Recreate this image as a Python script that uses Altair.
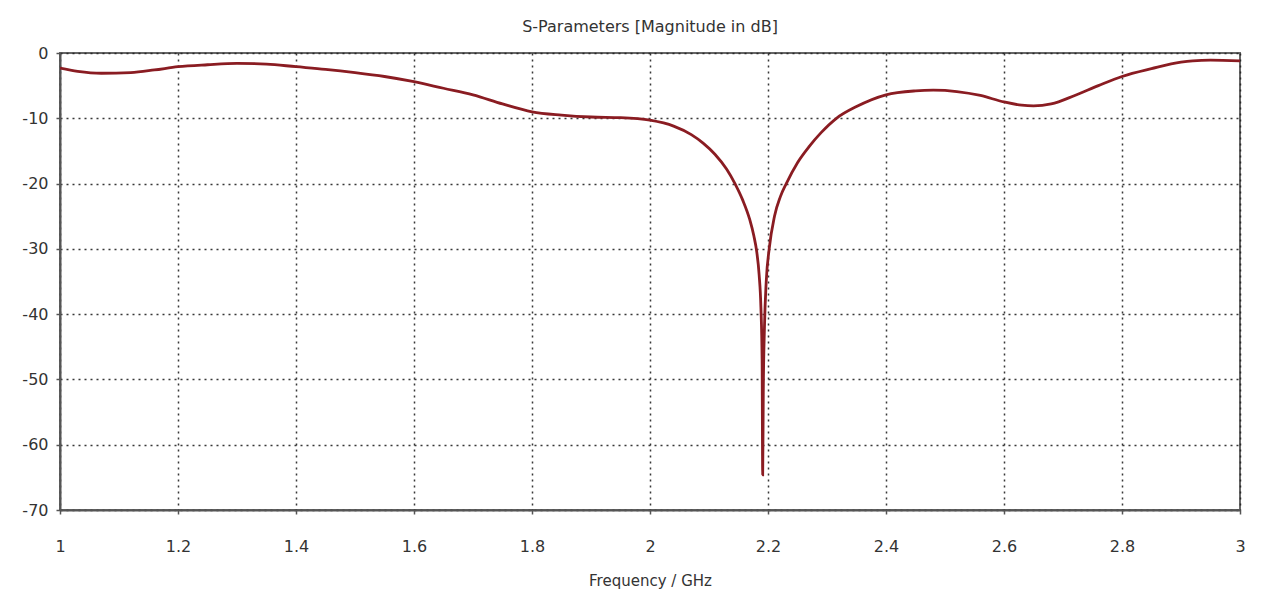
import altair as alt
import pandas as pd

freq = [1.00, 1.03, 1.07, 1.12, 1.16, 1.20, 1.25, 1.30, 1.35, 1.40, 1.45, 1.50,
        1.55, 1.60, 1.65, 1.70, 1.75, 1.80, 1.85, 1.90, 1.95, 2.00, 2.04, 2.07,
        2.09, 2.11, 2.13, 2.144, 2.157, 2.169, 2.176, 2.181, 2.185, 2.188, 2.190,
        2.191, 2.192, 2.194, 2.197, 2.202, 2.211, 2.221, 2.231, 2.25, 2.27, 2.29,
        2.316, 2.35, 2.40, 2.45, 2.48, 2.52, 2.56, 2.60, 2.63, 2.65, 2.68, 2.72,
        2.76, 2.80, 2.85, 2.90, 2.92, 2.95, 3.00]
s11_db = [-2.3, -2.8, -3.1, -3.0, -2.6, -2.1, -1.8, -1.6, -1.7, -2.1, -2.5, -3.0,
          -3.6, -4.4, -5.4, -6.4, -7.8, -9.0, -9.5, -9.8, -9.9, -10.3, -11.2, -12.5,
          -13.8, -15.5, -17.8, -20.0, -22.5, -25.5, -28.0, -30.5, -34.0, -39.0, -47.0,
          -64.6, -52.0, -42.0, -35.0, -30.0, -25.0, -22.0, -20.0, -16.8, -14.3, -12.2,
          -10.0, -8.2, -6.4, -5.8, -5.7, -5.9, -6.5, -7.5, -8.0, -8.1, -7.8, -6.5,
          -5.0, -3.6, -2.4, -1.4, -1.2, -1.1, -1.2]

x_ticks = [1.0, 1.2, 1.4, 1.6, 1.8, 2.0, 2.2, 2.4, 2.6, 2.8, 3.0]
y_ticks = [0, -10, -20, -30, -40, -50, -60, -70]

df = pd.DataFrame({"f": freq, "db": s11_db})

FONT = "DejaVu Sans"

line = alt.Chart(df).mark_line(
    color="#8a1c22", strokeWidth=2.8, interpolate="monotone", clip=True
).encode(
    x=alt.X("f:Q",
            scale=alt.Scale(domain=[1, 3], nice=False, zero=False),
            axis=alt.Axis(values=x_ticks, format=".1~f", title="Frequency / GHz",
                          titleFont=FONT, titleFontSize=15, titleFontWeight="normal",
                          titleColor="#333", titlePadding=19,
                          labelFont=FONT, labelFontSize=16, labelColor="#333",
                          labelPadding=24, labelFlush=False,
                          domainColor="#555", domainWidth=2,
                          tickColor="#555", tickSize=4, tickWidth=1.5,
                          grid=True, gridColor="#222", gridDash=[2, 4],
                          gridWidth=1.5, gridOpacity=0.9)),
    y=alt.Y("db:Q",
            scale=alt.Scale(domain=[-70, 0], nice=False, zero=False),
            axis=alt.Axis(values=y_ticks, labelExpr="'' + datum.value", title=None,
                          labelFont=FONT, labelFontSize=16, labelColor="#333",
                          labelPadding=8, labelFlush=False,
                          domainColor="#555", domainWidth=2,
                          tickColor="#555", tickSize=4, tickWidth=1.5,
                          grid=True, gridColor="#222", gridDash=[2, 4],
                          gridWidth=1.5, gridOpacity=0.9)),
)

chart = line.properties(
    width=1180,
    height=457,
    title=alt.TitleParams("S-Parameters [Magnitude in dB]", font=FONT, fontSize=16,
                          fontWeight="normal", color="#333", offset=10,
                          anchor="middle"),
    autosize=alt.AutoSizeParams(type="none"),
    padding={"left": 52, "top": 45, "right": 14, "bottom": 80},
    background="white",
).configure_view(
    stroke="#666", strokeWidth=2
)

chart.save("out.html", embed_options={"renderer": "svg", "actions": False})
